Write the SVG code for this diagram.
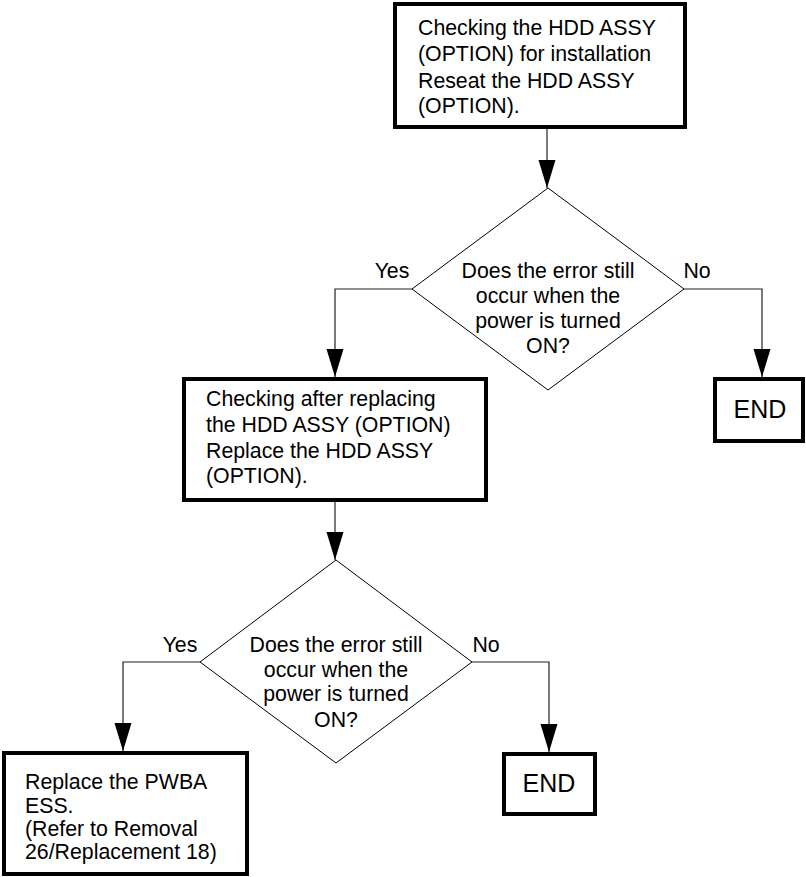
<svg xmlns="http://www.w3.org/2000/svg" width="806" height="877" viewBox="0 0 806 877">
<style>
.box{fill:#fff;stroke:#000;stroke-width:4;}
.dia{fill:#fff;stroke:#000;stroke-width:1;}
.con{fill:none;stroke:#222;stroke-width:1.2;}
text{font-family:"Liberation Sans",Arial,sans-serif;font-size:21.3px;fill:#000;}
.c{text-anchor:middle;}
.end{font-size:25px;}
</style>
<defs>
<marker id="arr" markerUnits="userSpaceOnUse" markerWidth="30" markerHeight="18" refX="28" refY="8.5" orient="auto">
<path d="M0,0 L28,8.5 L0,17 z" fill="#000"/>
</marker>
</defs>
<g id="connectors">
<path class="con" d="M547,127 V188" marker-end="url(#arr)"/>
<path class="con" d="M412,289 H335 V377" marker-end="url(#arr)"/>
<path class="con" d="M684,289 H762 V377" marker-end="url(#arr)"/>
<path class="con" d="M335,500 V560" marker-end="url(#arr)"/>
<path class="con" d="M200,662 H123 V751" marker-end="url(#arr)"/>
<path class="con" d="M472,662 H549 V752" marker-end="url(#arr)"/>
</g>
<g id="box1">
<rect class="box" x="395" y="4" width="290" height="123"/>
<text x="418" y="35">Checking the HDD ASSY</text>
<text x="418" y="61">(OPTION) for installation</text>
<text x="418" y="88">Reseat the HDD ASSY</text>
<text x="418" y="113">(OPTION).</text>
</g>
<g id="decision1">
<polygon class="dia" points="548,188 684,289 548,390 412,289"/>
<text class="c" x="548" y="278">Does the error still</text>
<text class="c" x="548" y="303">occur when the</text>
<text class="c" x="548" y="328">power is turned</text>
<text class="c" x="548" y="353">ON?</text>
</g>
<g id="label-yes1"><text class="c" x="392" y="278">Yes</text></g>
<g id="label-no1"><text class="c" x="697" y="278">No</text></g>
<g id="end1">
<rect class="box" x="715" y="379" width="88" height="62"/>
<text class="c end" x="760" y="418">END</text>
</g>
<g id="box2">
<rect class="box" x="184" y="379" width="302" height="121"/>
<text x="206" y="406">Checking after replacing</text>
<text x="206" y="432">the HDD ASSY (OPTION)</text>
<text x="206" y="458">Replace the HDD ASSY</text>
<text x="206" y="483">(OPTION).</text>
</g>
<g id="decision2">
<polygon class="dia" points="336,560 472,662 336,763 200,662"/>
<text class="c" x="336" y="652">Does the error still</text>
<text class="c" x="336" y="677">occur when the</text>
<text class="c" x="336" y="701">power is turned</text>
<text class="c" x="336" y="727">ON?</text>
</g>
<g id="label-yes2"><text class="c" x="180" y="652">Yes</text></g>
<g id="label-no2"><text class="c" x="486" y="652">No</text></g>
<g id="end2">
<rect class="box" x="504" y="754" width="91" height="60"/>
<text class="c end" x="549" y="792">END</text>
</g>
<g id="box3">
<rect class="box" x="4" y="753" width="243" height="121"/>
<text x="25" y="789">Replace the PWBA</text>
<text x="25" y="813">ESS.</text>
<text x="25" y="836">(Refer to Removal</text>
<text x="25" y="859">26/Replacement 18)</text>
</g>
</svg>
